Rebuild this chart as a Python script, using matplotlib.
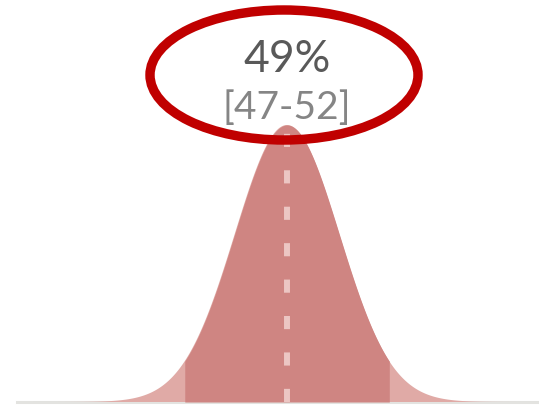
import numpy as np
import matplotlib
matplotlib.use("Agg")
import matplotlib.pyplot as plt
from matplotlib.patches import Ellipse

# Data
estimate = 49.4        # central estimate (%)
std_dev = 1.3          # spread of the estimate (%)
interval = [46.85, 51.95]  # 95% interval
label_main = "49%"
label_range = "[47-52]"

W, H = 539, 407
fig = plt.figure(figsize=(W / 100, H / 100), dpi=100)
ax = fig.add_axes([0, 0, 1, 1])
ax.set_axis_off()

px_per_unit = 40.2
x_left = estimate - 287 / px_per_unit
x_right = estimate + (W - 287) / px_per_unit
xs = np.linspace(x_left, x_right, 1200)
dens = np.exp(-0.5 * ((xs - estimate) / std_dev) ** 2) / (std_dev * np.sqrt(2 * np.pi))
peak = dens.max()

# y limits: baseline at 5 px from bottom, peak at 282 px from bottom
base_px, peak_px = 5, 282
scale = peak / (peak_px - base_px)
ax.set_ylim(-base_px * scale, (H - base_px) * scale)
ax.set_xlim(x_left, x_right)

ax.axhline(0, xmin=17 / W, xmax=1, color="#e3e3e0", lw=2.2, zorder=1)
ax.fill_between(xs, 0, dens, color="#e0aaa6", lw=0, zorder=2)
m = (xs >= interval[0]) & (xs <= interval[1])
ax.fill_between(xs[m], 0, dens[m], color="#cf8582", lw=0, zorder=3)

ax.plot([estimate, estimate], [0, peak * 0.99], color="#ecc6c3", lw=4.3,
        dashes=(2.2, 3.9), zorder=4, solid_capstyle="butt", dash_capstyle="butt")

# Ellipse annotation
ell = Ellipse((284 / W, 1 - 75 / H), 268 / W, 130 / H, transform=fig.transFigure,
              fill=False, edgecolor="#c00000", lw=6.8, zorder=6)
fig.add_artist(ell)

fig.text(287 / W, 1 - 60 / H, label_main, ha="center", va="center",
         fontsize=32, color="#595959", family="Lato")
fig.text(287 / W, 1 - 108 / H, label_range, ha="center", va="center",
         fontsize=28, color="#858585", family="Lato")

fig.savefig("out.png", dpi=100)
